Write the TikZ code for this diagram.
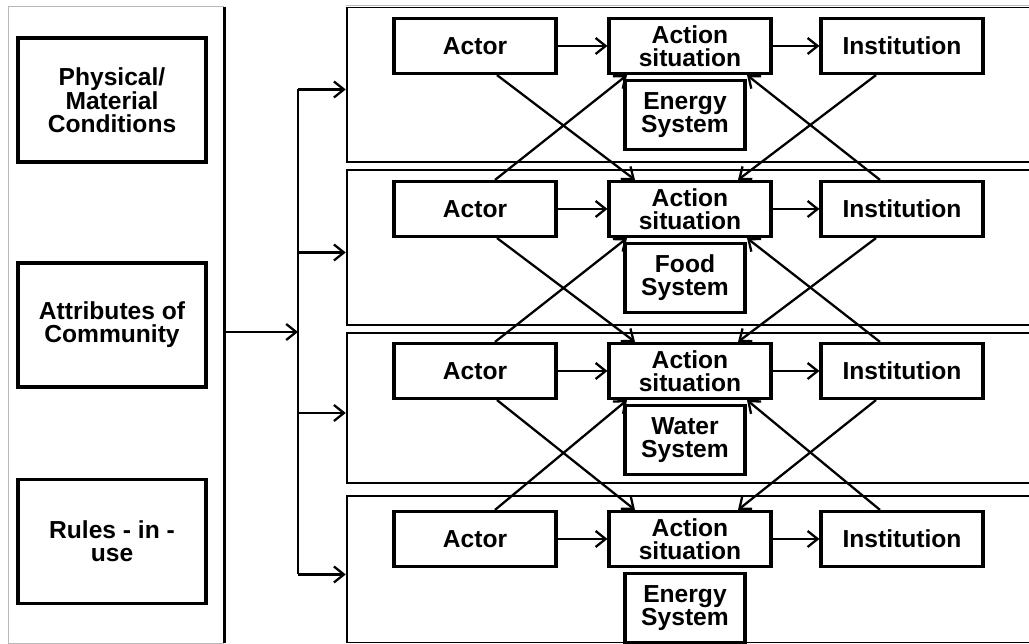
\documentclass[tikz,border=0pt]{standalone}
\usepackage{fontspec}
\setmainfont{Liberation Sans}
\usepackage{tikz}
\usetikzlibrary{arrows.meta,calc}
\newcommand{\boxfont}{\fontsize{14}{13}\selectfont\bfseries}
\tikzset{
  box/.style      = {draw, line width=1.8pt, align=center, inner sep=0pt, font=\boxfont},
  rowbox/.style   = {box, minimum width=3.24cm, minimum height=1.1cm},
  sysbox/.style   = {box, minimum width=2.4cm, minimum height=1.38cm},
  condbox/.style  = {box, minimum width=3.76cm, minimum height=2.48cm},
  panel/.style    = {draw, line width=1.5pt, inner sep=0pt, minimum width=13.96cm},
  cutedge/.style  = {gray!55, line width=0.8pt},
  flow/.style     = {-{Straight Barb[length=2mm,width=3.2mm]}, line width=1.3pt}
}

\begin{document}
\begin{tikzpicture}[x=0.02cm, y=-0.02cm]
  \useasboundingbox (0,0) rectangle (1029,644);
  % left column
  \node[draw=none, minimum width=4.3cm, minimum height=12.72cm, inner sep=0pt] (frame) at (116.5,325) {};
  \draw[cutedge] (frame.north east) -- (frame.north west) -- (frame.south west) -- (frame.south east);
  \draw[line width=1.5pt] (frame.north east) -- (frame.south east);
  \node[condbox] (phys)  at (112,100)   {Physical/\\Material\\Conditions};
  \node[condbox] (attr)  at (112,325)   {Attributes of\\Community};
  \node[condbox] (rules) at (112,541.5) {Rules - in -\\use};
  % panels
  \foreach \r/\y/\h in {1/84.5/3.1cm, 2/247.5/3.1cm, 3/408/3.0cm, 4/569.5/2.94cm}
    { \node[panel, minimum height=\h] (p\r) at (696,\y) {}; }
  \draw[white, line width=1.7pt] (p1.north west) -- (p1.north east);
  \draw[cutedge] (p1.north west) -- (p1.north east);
  \draw[white, line width=1.7pt] (p4.south west) -- (p4.south east);
  \draw[cutedge] (p4.south west) -- (p4.south east);
  % rows
  \foreach \r/\y/\sys in {1/46/Energy, 2/209/Food, 3/371/Water, 4/539/Energy}
  {
    \node[rowbox] (act\r)  at (475,\y) {Actor};
    \node[rowbox] (sit\r)  at (690,\y) {Action\\situation};
    \node[rowbox] (inst\r) at (902,\y) {Institution};
    \node[sysbox] (sys\r)  at (685,\y+69) {\sys\\System};
    \draw[flow] (act\r) -- (sit\r);
    \draw[flow] (sit\r) -- (inst\r);
  }
  % links between rows
  \foreach \r/\s in {1/2, 2/3, 3/4}
  {
    \draw[flow] ([xshift=0.44cm]act\r.south)   -- ([xshift=-1.1cm]sit\s.north);
    \draw[flow] ([xshift=0.4cm]act\s.north)    -- ([xshift=-1.26cm]sit\r.south);
    \draw[flow] ([xshift=-0.52cm]inst\r.south) -- ([xshift=0.96cm]sit\s.north);
    \draw[flow] ([xshift=-0.44cm]inst\s.north) -- ([xshift=1.14cm]sit\r.south);
  }
  % distribution bus
  \coordinate (bus) at (298,0);
  \coordinate (out) at ([yshift=-0.14cm]frame.east);
  \foreach \r in {1,...,4}
    { \coordinate (in\r) at ([yshift=-0.1cm]p\r.west); }
  \draw[line width=1.5pt] (bus |- in1) -- (bus |- in4);
  \draw[flow] (out) -- (bus |- out);
  \foreach \r in {1,...,4}
    { \draw[flow] (bus |- in\r) -- (in\r); }
\end{tikzpicture}
\end{document}
